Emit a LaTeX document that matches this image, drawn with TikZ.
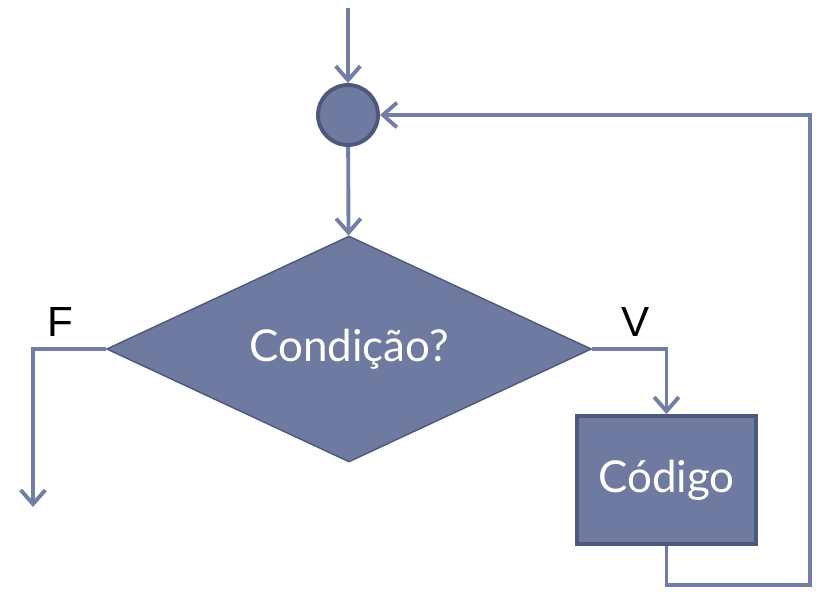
\documentclass[tikz,border=0pt]{standalone}
\usepackage{fontspec}
\setmainfont{Lato}
\newfontfamily\labelfont{Liberation Sans}
\usetikzlibrary{arrows.meta,positioning,shapes.geometric}
\definecolor{shapefill}{RGB}{110,122,160}
\definecolor{shapeedge}{RGB}{78,88,124}
\definecolor{linecol}{RGB}{114,126,166}
\tikzset{
	flow/.style={-{Straight Barb[length=8pt,width=14pt,line width=2.2pt]}, line width=2.2pt, draw=linecol},
	shapetext/.style={text=white, font=\fontsize{25}{30}\selectfont},
	branch/.style={font=\labelfont\fontsize{24}{28}\selectfont}
}

\begin{document}
\begin{tikzpicture}[x=0.02cm, y=-0.02cm]
	\useasboundingbox (0,0) rectangle (823,599);

	\node (junc) at (348,115) [circle, draw=shapeedge, fill=shapefill, line width=2.2pt, minimum size=1.2cm, inner sep=0pt] {};
	\node (cond) at (349,349) [diamond, draw=shapeedge, fill=shapefill, line width=0.8pt, minimum width=9.7cm, minimum height=4.52cm, inner sep=0pt] {};
	\node (condtext) at (cond.center) [shapetext] {Condição?};
	\node (code) at (666.5,480) [rectangle, draw=shapeedge, fill=shapefill, line width=2.2pt, minimum width=3.58cm, minimum height=2.56cm, shapetext] {Código};

	\node (F) at (60,322) [branch] {F};
	\node (V) at (636,322) [branch] {V};

	\coordinate (start) at (348,8);
	\coordinate (fout) at (33,507);
	\coordinate (back) at (810,585);

	\draw[flow] (start) -- (junc);
	\draw[flow] (junc) -- (cond);
	\draw[flow] (cond.west) -| (fout);
	\draw[flow] (cond.east) -| (code.north);
	\draw[flow] (code.south) |- (back) |- (junc.east);

\end{tikzpicture}
\end{document}
